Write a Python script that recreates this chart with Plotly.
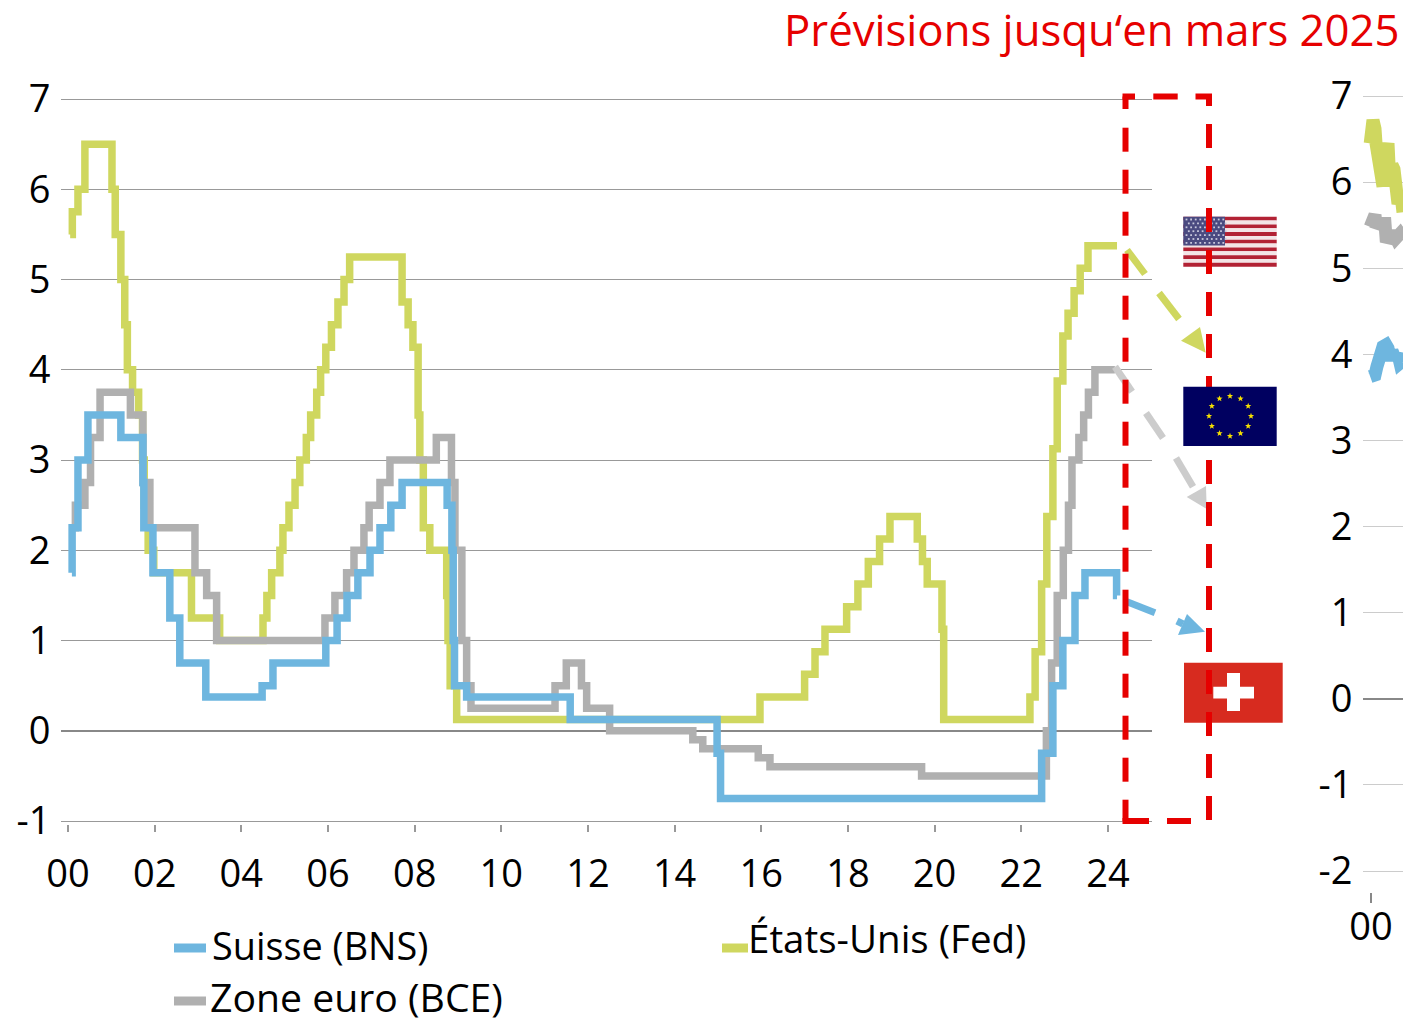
import math
import plotly.graph_objects as go

W, H = 1403, 1019

# Policy rates: change dates (decimal years since 2000) and levels in %
fed_x = [0.05, 0.10, 0.23, 0.39, 1.015, 1.09, 1.22, 1.31, 1.37, 1.49, 1.63, 1.72, 1.76, 1.85, 1.98, 2.85, 3.5, 4.5, 4.59, 4.7, 4.89, 4.96,
         5.1, 5.24, 5.35, 5.5, 5.6, 5.74, 5.83, 5.95, 6.08, 6.23, 6.37, 6.5, 7.71, 7.85, 7.96, 8.08, 8.12, 8.2, 8.35, 8.74, 8.77, 8.82,
         8.97, 15.97, 17.0, 17.24, 17.47, 17.97, 18.23, 18.47, 18.73, 18.97, 19.6, 19.72, 19.83, 20.17, 20.21, 22.2, 22.32, 22.47, 22.59,
         22.73, 22.83, 22.96, 23.08, 23.22, 23.36, 23.54, 24.21]
fed_y = [5.5, 5.75, 6.0, 6.5, 6.0, 5.5, 5.0, 4.5, 4.0, 3.75, 3.5, 3.0, 2.5, 2.0, 1.75, 1.25, 1.0, 1.25, 1.5, 1.75, 2.0, 2.25,
         2.5, 2.75, 3.0, 3.25, 3.5, 3.75, 4.0, 4.25, 4.5, 4.75, 5.0, 5.25, 4.75, 4.5, 4.25, 3.5, 3.0, 2.25, 2.0, 1.5, 1.0, 0.5,
         0.125, 0.375, 0.625, 0.875, 1.125, 1.375, 1.625, 1.875, 2.125, 2.375, 2.125, 1.875, 1.625, 1.125, 0.125, 0.375, 0.875, 1.625, 2.375,
         3.125, 3.875, 4.375, 4.625, 4.875, 5.125, 5.375, 5.375]

ecb_x = [0.15, 0.17, 0.39, 0.52, 0.74, 1.44, 1.73, 1.89, 2.93, 3.2, 3.43, 5.93, 6.16, 6.43, 6.6, 6.83, 6.95, 7.2, 7.43, 8.5, 8.85, 8.93,
         9.09, 9.2, 9.3, 11.24, 11.5, 11.85, 11.97, 12.5, 14.42, 14.65, 15.93, 16.2, 19.7, 22.58, 22.7, 22.83, 22.97, 23.09, 23.17, 23.33,
         23.44, 23.55, 23.7, 24.16]
ecb_y = [2.25, 2.5, 2.75, 3.25, 3.75, 3.5, 2.75, 2.25, 1.75, 1.5, 1.0, 1.25, 1.5, 1.75, 2.0, 2.25, 2.5, 2.75, 3.0, 3.25, 2.75, 2.0,
         1.0, 0.5, 0.25, 0.5, 0.75, 0.5, 0.25, 0.0, -0.1, -0.2, -0.3, -0.4, -0.5, 0.0, 0.75, 1.5, 2.0, 2.5, 3.0, 3.25,
         3.5, 3.75, 4.0, 4.0]

snb_x = [0.09, 0.095, 0.23, 0.46, 1.22, 1.73, 1.75, 1.96, 2.35, 2.58, 3.18, 4.48, 4.73, 5.95, 6.21, 6.44, 6.69, 6.97, 7.2, 7.45, 7.71, 8.75,
         8.86, 8.89, 8.92, 8.95, 9.2, 11.59, 14.98, 15.06, 22.47, 22.73, 22.96, 23.24, 23.47, 24.2, 24.21]
snb_y = [1.75, 2.25, 3.0, 3.5, 3.25, 2.75, 2.25, 1.75, 1.25, 0.75, 0.375, 0.5, 0.75, 1.0, 1.25, 1.5, 1.75, 2.0, 2.25, 2.5, 2.75, 2.5,
         2.0, 1.0, 0.5, 0.5, 0.375, 0.125, -0.25, -0.75, -0.25, 0.5, 1.0, 1.5, 1.75, 1.5, 1.5]

# Cropped right-hand panel (10-year yields, only the first months are visible)
yld_x_fed = [-0.02, 0.02, 0.05, 0.1, 0.125, 0.175, 0.225, 0.3, 0.31, 0.35, 0.425, 0.45, 0.475, 0.525, 0.575, 0.625, 0.675, 0.75, 0.8]
yld_fed = [6.45, 6.62, 6.72, 6.62, 6.45, 6.25, 5.95, 5.95, 6.2, 6.45, 6.45, 6.2, 5.95, 6.2, 6.15, 5.9, 5.75, 5.85, 5.65]
yld_x_ecb = [-0.02, 0.025, 0.1, 0.125, 0.2, 0.35, 0.375, 0.475, 0.55, 0.625, 0.725, 0.8]
yld_ecb = [5.48, 5.62, 5.62, 5.48, 5.52, 5.52, 5.36, 5.35, 5.42, 5.35, 5.40, 5.35]
yld_x_snb = [-0.02, 0.1, 0.15, 0.225, 0.3, 0.375, 0.425, 0.475, 0.525, 0.6, 0.675, 0.725, 0.8]
yld_snb = [3.74, 3.76, 3.86, 4.04, 4.09, 4.11, 4.07, 3.93, 4.04, 3.95, 4.00, 3.90, 3.93]

y_ticks = [-1, 0, 1, 2, 3, 4, 5, 6, 7]
y_labels = ["-1", "0", "1", "2", "3", "4", "5", "6", "7"]
y2_ticks = [-2, -1, 0, 1, 2, 3, 4, 5, 6, 7]
y2_labels = ["-2", "-1", "0", "1", "2", "3", "4", "5", "6", "7"]
x_ticks = list(range(0, 25, 2))
x_labels = [f"{v:02d}" for v in x_ticks]

names = ["États-Unis (Fed)", "Zone euro (BCE)", "Suisse (BNS)"]
title_text = "Prévisions jusqu‘en mars 2025"

C_FED, C_ECB, C_SNB = "#CFD75F", "#B0B0B0", "#6EB6DF"
C_RED = "#E60000"
FONT = "Open Sans"


def px(v):
    return v / W


def py(v):
    return 1 - v / H


def path_of(points, close=True):
    s = "M " + " L ".join(f"{px(a):.5f} {py(b):.5f}" for a, b in points)
    return s + (" Z" if close else "")


def poly(points, color):
    return dict(type="path", xref="paper", yref="paper", path=path_of(points), fillcolor=color, line=dict(width=0), layer="above")


def rect(x0, y0, x1, y1, color):
    return dict(type="rect", xref="paper", yref="paper", x0=px(x0), x1=px(x1), y0=py(y0), y1=py(y1), fillcolor=color,
                line=dict(width=0), layer="above")


def seg(x0, y0, x1, y1, color, width):
    return dict(type="line", xref="paper", yref="paper", x0=px(x0), x1=px(x1), y0=py(y0), y1=py(y1), line=dict(color=color, width=width),
                layer="above")


def star(cx, cy, r):
    pts = []
    for i in range(10):
        a = -math.pi / 2 + i * math.pi / 5
        rr = r if i % 2 == 0 else r * 0.42
        pts.append((cx + rr * math.cos(a), cy + rr * math.sin(a)))
    return pts


fig = go.Figure()
common = dict(mode="lines", line_shape="hv", hoverinfo="skip", showlegend=False)
fig.add_trace(go.Scatter(x=fed_x, y=fed_y, name=names[0], line=dict(color=C_FED, width=7.5), **common))
fig.add_trace(go.Scatter(x=ecb_x, y=ecb_y, name=names[1], line=dict(color=C_ECB, width=7.5), **common))
fig.add_trace(go.Scatter(x=snb_x, y=snb_y, name=names[2], line=dict(color=C_SNB, width=7.5), **common))
second = dict(mode="lines", hoverinfo="skip", showlegend=False, xaxis="x2", yaxis="y2", cliponaxis=True)
fig.add_trace(go.Scatter(x=yld_x_fed, y=yld_fed, name=names[0] + " 10 ans", line=dict(color=C_FED, width=13), **second))
fig.add_trace(go.Scatter(x=yld_x_ecb, y=yld_ecb, name=names[1] + " 10 ans", line=dict(color=C_ECB, width=13), **second))
fig.add_trace(go.Scatter(x=yld_x_snb, y=yld_snb, name=names[2] + " 10 ans", line=dict(color=C_SNB, width=13), **second))

shapes = []
# US flag
FX0, FX1 = 1183.3, 1276.7
for i in range(13):
    y0 = 216.7 + i * 50 / 13
    shapes.append(rect(FX0, y0, FX1, y0 + 50 / 13, "#B22234" if i % 2 == 0 else "#F3E4E6"))
shapes.append(rect(FX0, 216.7, 1225, 245.5, "#4A4A80"))
for row in range(7):
    for col in range(9):
        cx = 1186.5 + col * 4.6 + (2.3 if row % 2 else 0)
        cy = 219.5 + row * 3.9
        shapes.append(rect(cx - 0.9, cy - 0.9, cx + 0.9, cy + 0.9, "#C8C8DC"))
# Swiss flag
shapes.append(rect(1184, 662.7, 1282.7, 722.7, "#D72B1F"))
shapes.append(rect(1213.3, 686.7, 1254, 698.5, "#FFFFFF"))
shapes.append(rect(1227, 673, 1240, 711, "#FFFFFF"))

# Dashed forecast arrows
shapes += [seg(1127, 250, 1145, 274, C_FED, 7), seg(1159, 293, 1179, 319, C_FED, 7),
           poly([(1205.7, 352.7), (1200, 327), (1181, 340.7)], C_FED)]
C_AR = "#CCCCCC"
shapes += [seg(1115, 366.7, 1132, 391.7, C_AR, 7), seg(1146, 413, 1163, 438, C_AR, 7), seg(1176, 458, 1193, 486.7, C_AR, 7),
           poly([(1206.7, 509), (1206, 486), (1186.7, 497)], C_AR)]
shapes += [seg(1127, 601.7, 1155, 612.7, C_SNB, 7), seg(1177, 621, 1183, 624, C_SNB, 7),
           poly([(1205, 631.7), (1187, 614), (1178, 635)], C_SNB)]

# Red dashed frame
LX, RX, TY, BY, T = 1125.5, 1209, 96.5, 821, 6
for x0, x1 in [(LX - 3, 1135), (1153.3, 1177.7), (1195.5, RX + 3)]:
    shapes.append(seg(x0, TY, x1, TY, C_RED, T))
for x0, x1 in [(LX - 3, 1149), (1167, 1191)]:
    shapes.append(seg(x0, BY, x1, BY, C_RED, T))
shapes.append(seg(LX, TY, LX, 109, C_RED, T))
shapes.append(seg(RX, TY, RX, 106, C_RED, T))
for k in range(17):
    y0 = 127.7 + 42 * k
    shapes.append(seg(LX, y0, LX, min(y0 + 24, BY), C_RED, T))
    y0 = 124 + 42 * k
    shapes.append(seg(RX, y0, RX, min(y0 + 24, BY), C_RED, T))

# EU flag sits on top of the frame
shapes.append(rect(FX0, 386.7, FX1, 446, "#000060"))
for i in range(12):
    a = i * math.pi / 6
    shapes.append(poly(star(1230 + 21 * math.sin(a), 416 - 20 * math.cos(a), 3.3), "#F5E000"))

# Legend swatches
shapes += [rect(174, 943.5, 206, 952.5, C_SNB), rect(174, 996.5, 206, 1005.5, C_ECB), rect(722, 943.5, 748, 952.5, C_FED)]

ann = [
    dict(text=title_text, x=px(1400), y=py(29), xanchor="right", yanchor="middle", font=dict(size=43.7, color=C_RED, family=FONT)),
    dict(text=names[2], x=px(212), y=py(945), xanchor="left", yanchor="middle", font=dict(size=37.8, color="#000", family=FONT)),
    dict(text=names[1], x=px(210), y=py(996), xanchor="left", yanchor="middle", height=44, font=dict(size=39.2, color="#000", family=FONT)),
    dict(text=names[0], x=px(748), y=py(938), xanchor="left", yanchor="middle", font=dict(size=38.5, color="#000", family=FONT)),
]
for a in ann:
    a.update(xref="paper", yref="paper", showarrow=False, borderpad=0, borderwidth=0)

tick_font = dict(size=38, color="#000", family=FONT)
# Axis ranges run slightly past the end ticks so the end gridlines stay drawn
U1 = 90.25
U2 = 86.11
PAD = 3
fig.update_layout(
    width=W, height=H, margin=dict(l=0, r=0, t=0, b=0), autosize=False,
    paper_bgcolor="white", plot_bgcolor="white", showlegend=False, shapes=shapes, annotations=ann,
    xaxis=dict(domain=[px(61), px(1152)], range=[(61 - 68) / 43.33, (1152 - 68) / 43.33], tickmode="array", tickvals=x_ticks, ticktext=x_labels,
               ticks="outside", ticklen=7, tickwidth=1.5, tickcolor="#999999", showgrid=False, zeroline=False, showline=False,
               tickfont=tick_font, anchor="y", automargin=False, ticklabelstandoff=9),
    yaxis=dict(domain=[py(821 + PAD), py(99 - PAD)], range=[-1 - PAD / U1, 7 + PAD / U1], tickmode="array", tickvals=y_ticks, ticktext=y_labels,
               ticks="outside", ticklen=2, tickcolor="rgba(0,0,0,0)", showgrid=True, gridcolor="#999999", gridwidth=1.3, zeroline=True,
               zerolinecolor="#888888", zerolinewidth=1.6, showline=False, tickfont=tick_font, anchor="x", automargin=False),
    xaxis2=dict(domain=[px(1363), px(1403)], range=[(1363 - 1371) / 40, (1403 - 1371) / 40], tickmode="array", tickvals=[0], ticktext=["00"],
                ticks="outside", ticklen=10, tickwidth=2, tickcolor="#888888", showgrid=False, zeroline=False, showline=False,
                tickfont=tick_font, anchor="free", position=py(892), automargin=False, ticklabelstandoff=-9),
    yaxis2=dict(domain=[py(871 + PAD), py(96 - PAD)], range=[-2 - PAD / U2, 7 + PAD / U2], tickmode="array", tickvals=y2_ticks, ticktext=y2_labels,
                ticks="outside", ticklen=2, tickcolor="rgba(0,0,0,0)", showgrid=True, gridcolor="#CCCCCC", gridwidth=1.3, zeroline=True,
                zerolinecolor="#888888", zerolinewidth=1.6, showline=False, tickfont=tick_font, anchor="x2", automargin=False),
)

fig.write_html("out.html", config={"displayModeBar": False}, post_script="document.body.style.margin='0';document.body.style.overflow='hidden';")
